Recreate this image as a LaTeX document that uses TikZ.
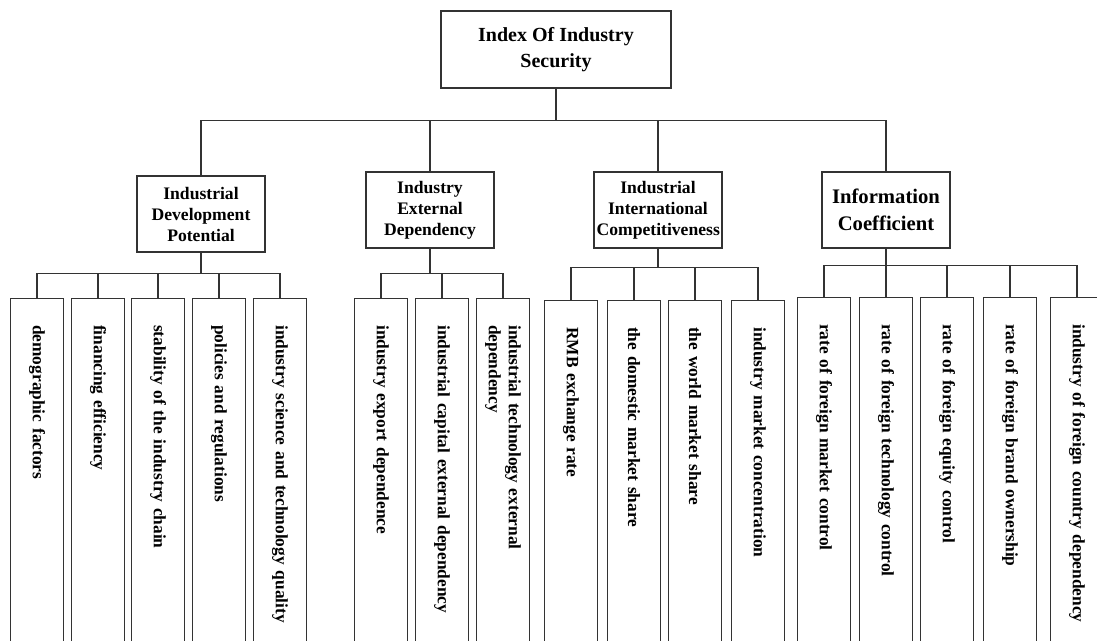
\documentclass[tikz,border=0pt]{standalone}
\usepackage{fontspec}
\setmainfont{Liberation Serif}
\usepackage{tikz}

\tikzset{
  box/.style={draw=black!80, line width=0.8pt, fill=white, align=center, inner sep=2pt},
  topbox/.style={box, minimum width=172.5pt, minimum height=57.75pt, font=\bfseries\fontsize{15pt}{19pt}\selectfont},
  midbox/.style={box, minimum width=96pt, minimum height=57pt, text width=92pt, font=\bfseries\fontsize{13.2pt}{15.75pt}\selectfont},
  leafbox/.style={draw=black!80, line width=0.8pt, rotate=-90, anchor=west, text width=240pt, inner xsep=20pt, inner ysep=2pt, minimum height=40pt, align=left, font=\bfseries\fontsize{13pt}{15pt}\selectfont},
  link/.style={draw=black!80, line width=0.8pt}
}

\begin{document}
\begin{tikzpicture}[x=0.75pt, y=-0.75pt]
\clip (0,0) rectangle (1097,640);
\fill[white] (0,0) rectangle (1097,640);

\node[topbox] (idx) at (556,49.5) {Index Of Industry\\Security};

\node[midbox] (dev) at (201,214) {Industrial\\Development\\Potential};
\node[midbox] (ext) at (430,210) {Industry\\External\\Dependency};
\node[midbox] (comp) at (658,210) {Industrial\\International\\Competitiveness};
\node[midbox, font=\bfseries\fontsize{15.5pt}{20pt}\selectfont] (info) at (886,210) {Information\\Coefficient};

\draw[link] (idx.south) -- ++(0,32) -| (dev.north);
\draw[link] (idx.south) -- ++(0,32) -| (ext.north);
\draw[link] (idx.south) -- ++(0,32) -| (comp.north);
\draw[link] (idx.south) -- ++(0,32) -| (info.north);

% industrial development potential
\node[leafbox] (dev1) at (37,298) {demographic factors};
\node[leafbox] (dev2) at (98,298) {financing efficiency};
\node[leafbox] (dev3) at (158,298) {stability of the industry chain};
\node[leafbox] (dev4) at (219,298) {policies and regulations};
\node[leafbox] (dev5) at (280,298) {industry science and technology quality};
\draw[link] (dev.south) -- ++(0,21) -| (dev1.west);
\draw[link] (dev.south) -- ++(0,21) -| (dev2.west);
\draw[link] (dev.south) -- ++(0,21) -| (dev3.west);
\draw[link] (dev.south) -- ++(0,21) -| (dev4.west);
\draw[link] (dev.south) -- ++(0,21) -| (dev5.west);

% industry external dependency
\node[leafbox] (ext1) at (381,298) {industry export dependence};
\node[leafbox] (ext2) at (442,298) {industrial capital external dependency};
\node[leafbox] (ext3) at (503,298) {industrial technology external\\dependency};
\draw[link] (ext.south) -- ++(0,25) -| (ext1.west);
\draw[link] (ext.south) -- ++(0,25) -| (ext2.west);
\draw[link] (ext.south) -- ++(0,25) -| (ext3.west);

% industrial international competitiveness
\node[leafbox] (comp1) at (571,300) {RMB exchange rate};
\node[leafbox] (comp2) at (634,300) {the domestic market share};
\node[leafbox] (comp3) at (695,300) {the world market share};
\node[leafbox] (comp4) at (758,300) {industry market concentration};
\draw[link] (comp.south) -- ++(0,19) -| (comp1.west);
\draw[link] (comp.south) -- ++(0,19) -| (comp2.west);
\draw[link] (comp.south) -- ++(0,19) -| (comp3.west);
\draw[link] (comp.south) -- ++(0,19) -| (comp4.west);

% information coefficient
\node[leafbox] (info1) at (824,297) {rate of foreign market control};
\node[leafbox] (info2) at (886,297) {rate of foreign technology control};
\node[leafbox] (info3) at (947,297) {rate of foreign equity control};
\node[leafbox] (info4) at (1010,297) {rate of foreign brand ownership};
\node[leafbox] (info5) at (1077,297) {industry of foreign country dependency};
\draw[link] (info.south) -- ++(0,17) -| (info1.west);
\draw[link] (info.south) -- ++(0,17) -| (info2.west);
\draw[link] (info.south) -- ++(0,17) -| (info3.west);
\draw[link] (info.south) -- ++(0,17) -| (info4.west);
\draw[link] (info.south) -- ++(0,17) -| (info5.west);
\end{tikzpicture}
\end{document}
